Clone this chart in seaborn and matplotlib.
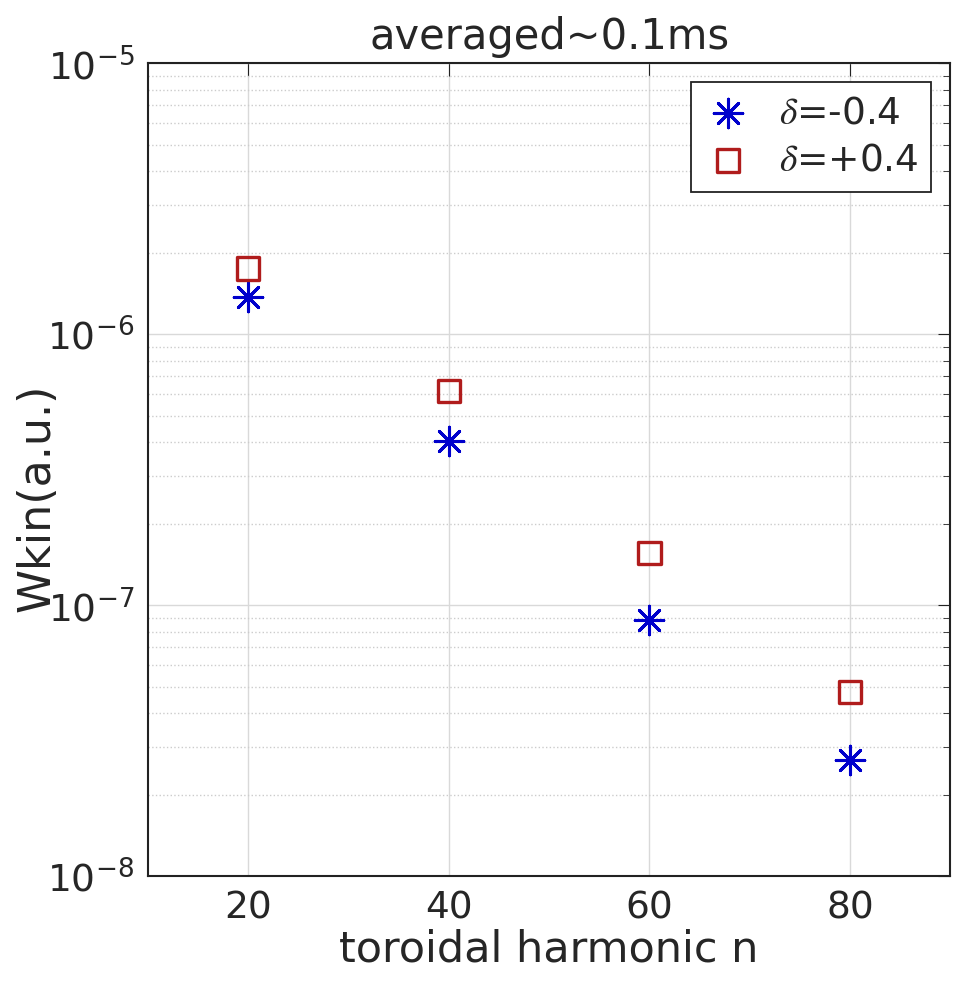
import numpy as np
import pandas as pd
import matplotlib
matplotlib.use('Agg')
import matplotlib.pyplot as plt
import seaborn as sns
from matplotlib.ticker import LogLocator, NullFormatter

# dados
n_harm = [20, 40, 60, 80]
wkin_neg = [1.37e-6, 4.03e-7, 8.8e-8, 2.68e-8]   # delta = -0.4
wkin_pos = [1.75e-6, 6.18e-7, 1.56e-7, 4.78e-8]  # delta = +0.4
labels = [r'$\delta$=-0.4', r'$\delta$=+0.4']

df = pd.DataFrame({
    'n': n_harm * 2,
    'wkin': wkin_neg + wkin_pos,
    'caso': [labels[0]] * 4 + [labels[1]] * 4,
})

sns.set_style('white')
plt.rcParams['font.family'] = ['DejaVu Sans']
plt.rcParams['mathtext.fontset'] = 'stix'

fig = plt.figure(figsize=(9.55, 9.89), dpi=100)
ax = fig.add_axes([0.155, 0.114, 0.84, 0.822])

sns.scatterplot(data=df[df.caso == labels[0]], x='n', y='wkin', ax=ax,
                marker=(8, 2, 0), s=420, color='#0000cc', edgecolor='#0000cc',
                linewidth=2.2, label=labels[0], zorder=3)
sns.scatterplot(data=df[df.caso == labels[1]], x='n', y='wkin', ax=ax,
                marker='s', s=260, facecolor='none', edgecolor='#b01c1c',
                linewidth=2.4, label=labels[1], zorder=3)

ax.set_yscale('log')
ax.set_xlim(10, 90)
ax.set_ylim(1e-8, 1e-5)
ax.set_xticks([20, 40, 60, 80])
ax.yaxis.set_major_locator(LogLocator(base=10, numticks=10))
ax.yaxis.set_minor_locator(LogLocator(base=10, subs=np.arange(2, 10), numticks=20))
ax.yaxis.set_minor_formatter(NullFormatter())

# grid estilo matlab
ax.grid(which='major', axis='both', color='#d9d9d9', linewidth=1)
ax.grid(which='minor', axis='y', color='#cccccc', linestyle=':', linewidth=1)
ax.set_axisbelow(True)

for s in ax.spines.values():
    s.set_color('#222222')
    s.set_linewidth(1.5)

ax.tick_params(which='both', direction='in', top=True, right=True, colors='#222222',
               labelcolor='#262626')
ax.tick_params(which='major', length=9, labelsize=27, pad=10)
ax.tick_params(which='minor', length=5)

ax.set_title('averaged~0.1ms', fontsize=30, color='#262626', pad=10)
ax.set_xlabel('toroidal harmonic n', fontsize=31, color='#262626', labelpad=2)
ax.set_ylabel('Wkin(a.u.)', fontsize=32, color='#262626')
ax.yaxis.set_label_coords(-0.112, 0.466)

leg = ax.legend(loc='upper right', fontsize=27, frameon=True, fancybox=False,
                framealpha=1, edgecolor='#222222', borderpad=0.35,
                handlelength=1.3, handletextpad=0.7, labelspacing=0.3,
                borderaxespad=0.5)
leg.get_frame().set_linewidth(1.3)

fig.savefig('out.png', dpi=100)
